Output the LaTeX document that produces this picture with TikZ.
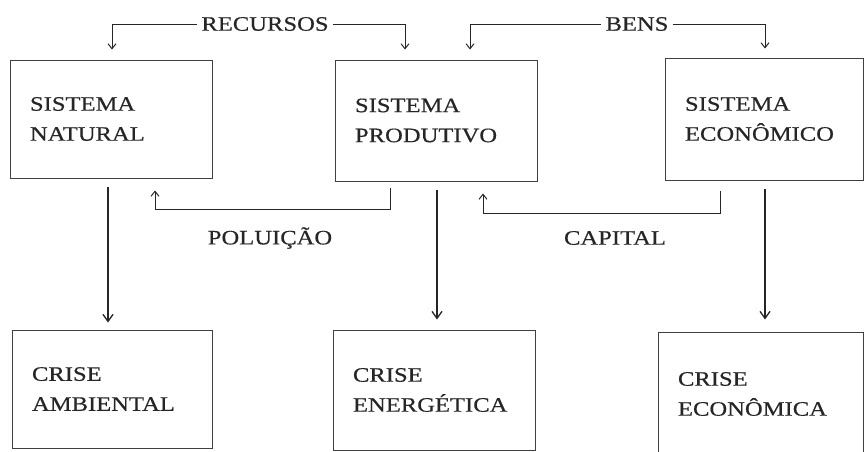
\documentclass[tikz,border=0pt]{standalone}
\usepackage{fontspec}
\setmainfont{Liberation Serif}[FakeStretch=1.2,FakeBold=0.4]
\usetikzlibrary{arrows.meta}
\begin{document}
\begin{tikzpicture}[x=1pt,y=-1pt,
  txt/.style={font=\fontsize{20.5}{30}\selectfont, text=black!85},
  box/.style={txt, draw=black!75, line width=1pt, rectangle, inner xsep=20pt, align=left},
  lab/.style={txt, inner sep=4pt},
  arr/.style={draw=black!85, line width=1pt, -{Straight Barb[length=5pt,width=8pt]}},
  bigarr/.style={draw=black!85, line width=1.3pt, -{Straight Barb[length=7pt,width=10pt]}}]
\fill[white] (0,0) rectangle (865,451);
\useasboundingbox (0,0) rectangle (865,451);
\clip (0,0) rectangle (865,451);
% boxes
\node[box, minimum width=202pt, minimum height=118pt, text width=162pt] (n1) at (111,119) {SISTEMA\\NATURAL};
\node[box, minimum width=202pt, minimum height=121pt, text width=162pt] (n2) at (436,120.5) {SISTEMA\\PRODUTIVO};
\node[box, minimum width=198pt, minimum height=122pt, text width=158pt] (n3) at (764,119) {SISTEMA\\ECONÔMICO};
\node[box, minimum width=200pt, minimum height=118pt, text width=160pt] (n4) at (112,389) {CRISE\\AMBIENTAL};
\node[box, minimum width=202pt, minimum height=120pt, text width=162pt] (n5) at (434,390) {CRISE\\ENERGÉTICA};
\node[box, minimum width=205pt, minimum height=124pt, text width=165pt] (n6) at (760.5,394) {CRISE\\ECONÔMICA};
% labels
\node[lab] (rec) at (265,24) {RECURSOS};
\node[lab] (ben) at (637,24) {BENS};
\node[lab] (pol) at (270,238) {POLUIÇÃO};
\node[lab] (cap) at (615,238) {CAPITAL};
% top connectors
\draw[arr] (rec.west) -| ([xshift=1pt,yshift=10pt]n1.north);
\draw[arr] (rec.east) -| ([xshift=-31pt,yshift=10pt]n2.north);
\draw[arr] (ben.west) -| ([xshift=34pt,yshift=10pt]n2.north);
\draw[arr] (ben.east) -| ([xshift=1pt,yshift=9pt]n3.north);
% feedback loops
\draw[arr] ([xshift=-46pt,yshift=-6pt]n2.south) -- ++(0,22) -| ([xshift=44pt,yshift=-12pt]n1.south);
\draw[arr] ([xshift=-44pt,yshift=-10pt]n3.south) -- ++(0,23) -| ([xshift=47pt,yshift=-12pt]n2.south);
% vertical arrows
\draw[bigarr] ([xshift=-3pt,yshift=-8pt]n1.south) -- ([xshift=-4pt,yshift=7pt]n4.north);
\draw[bigarr] ([xshift=1pt,yshift=-8pt]n2.south) -- ([xshift=3pt,yshift=10pt]n5.north);
\draw[bigarr] ([xshift=1pt,yshift=-8pt]n3.south) -- ([xshift=4.5pt,yshift=12pt]n6.north);
\end{tikzpicture}
\end{document}
